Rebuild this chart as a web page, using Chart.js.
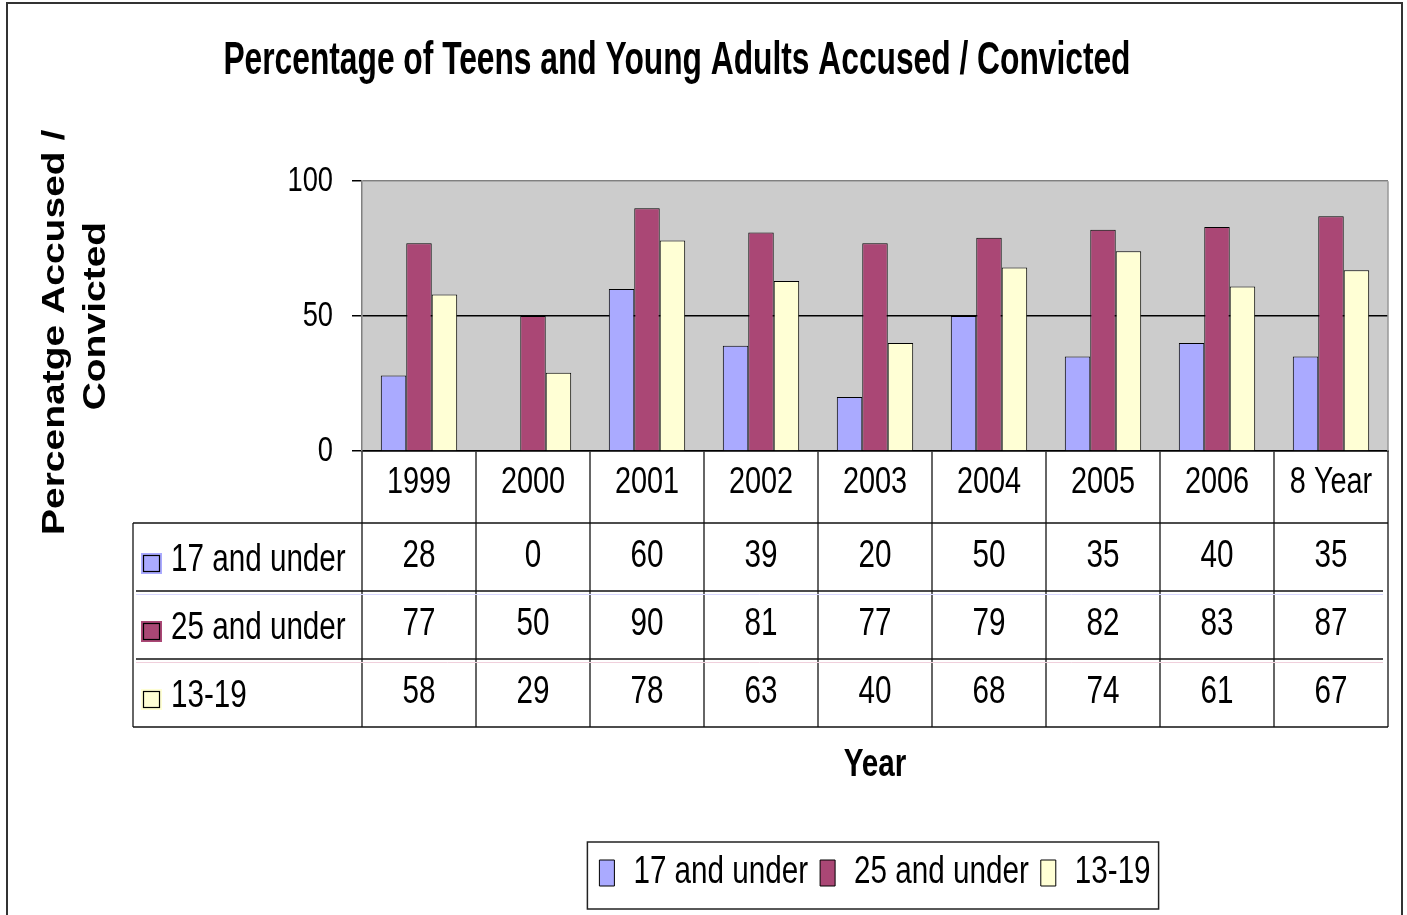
<!DOCTYPE html>
<html><head><meta charset="utf-8">
<script src="https://cdn.jsdelivr.net/npm/chart.js@4.4.1/dist/chart.umd.min.js"></script>
<style>html,body{margin:0;padding:0;background:#fff;overflow:hidden}canvas{display:block}</style>
</head><body>
<canvas id="c" width="1407" height="915"></canvas>
<script>
const categories = ['1999','2000','2001','2002','2003','2004','2005','2006','8 Year'];
const seriesNames = ['17 and under','25 and under','13-19'];
const under17 = [28,0,60,39,20,50,35,40,35];
const under25 = [77,50,90,81,77,79,82,83,87];
const teens1319 = [58,29,78,63,40,68,74,61,67];
const yTickValues = [0,50,100];
const chartTitle = 'Percentage of Teens and Young Adults Accused / Convicted';
const yTitle = ['Percenatge Accused /   ','Convicted'];
const xTitle = 'Year';
const seriesColors = ['#AAAAFF','#AA4775','#FFFFD5'];

const FONT = "'Liberation Sans',Arial,sans-serif";
Chart.defaults.color = '#000';

// The reference renders its text horizontally condensed; mimic it on screen.
const SQUASH = 0.78, TITLE_SQUASH = 0.69;
const canvas = document.getElementById('c');
const ctx2d = canvas.getContext('2d');
const squashFor = t => String(t).trim() === chartTitle ? TITLE_SQUASH : SQUASH;
const origFill = ctx2d.fillText.bind(ctx2d);
const origMeasure = ctx2d.measureText.bind(ctx2d);
ctx2d.fillText = function (text, x, y) {
  const k = squashFor(text);
  const m = this.getTransform();
  const p = m.transformPoint(new DOMPoint(x, y));
  this.save();
  this.setTransform(new DOMMatrix().translate(p.x, p.y).scale(k, 1).translate(-p.x, -p.y).multiply(m));
  origFill(text, x, y);
  this.restore();
};
ctx2d.measureText = function (text) {
  const r = origMeasure(text);
  const m = this.getTransform();
  if (Math.abs(m.b) < 1e-6 && Math.abs(m.c) < 1e-6) {
    const k = squashFor(text);
    return {
      width: r.width * k,
      actualBoundingBoxLeft: r.actualBoundingBoxLeft * k,
      actualBoundingBoxRight: r.actualBoundingBoxRight * k,
      actualBoundingBoxAscent: r.actualBoundingBoxAscent,
      actualBoundingBoxDescent: r.actualBoundingBoxDescent,
      fontBoundingBoxAscent: r.fontBoundingBoxAscent,
      fontBoundingBoxDescent: r.fontBoundingBoxDescent
    };
  }
  return r;
};

const HEADER_H = 72, ROW_H = 68, LABEL_LEFT = 133;

function seg(ctx, x1, y1, x2, y2) { ctx.beginPath(); ctx.moveTo(x1, y1); ctx.lineTo(x2, y2); ctx.stroke(); }

const tablePlugin = {
  id: 'dataTable',
  beforeDraw(chart) {
    const {ctx, chartArea: a} = chart;
    ctx.save();
    ctx.fillStyle = '#fff';
    ctx.fillRect(0, 0, chart.width, chart.height);
    ctx.fillStyle = '#CCCCCC';
    ctx.fillRect(a.left, a.top, a.right - a.left, a.bottom - a.top);
    ctx.restore();
  },
  afterDraw(chart) {
    const {ctx, chartArea: a, scales: {x}} = chart;
    const n = categories.length;
    const colW = (a.right - a.left) / n;
    const tableTop = a.bottom;
    const rowsTop = tableTop + HEADER_H;
    const tableBottom = rowsTop + ROW_H * chart.data.datasets.length;
    ctx.save();
    ctx.strokeStyle = '#999'; ctx.lineWidth = 1.5;
    seg(ctx, a.right, a.top, a.right, a.bottom);
    ctx.strokeStyle = '#333'; ctx.lineWidth = 1.5;
    for (let i = 0; i <= n; i++) {
      const px = Math.round(a.left + i * colW);
      seg(ctx, px, tableTop, px, tableBottom);
    }
    seg(ctx, LABEL_LEFT, rowsTop, LABEL_LEFT, tableBottom);
    ctx.strokeStyle = '#111'; ctx.lineWidth = 1.5;
    seg(ctx, LABEL_LEFT, rowsTop, a.right, rowsTop);
    for (let r = 1; r < chart.data.datasets.length; r++) {
      seg(ctx, LABEL_LEFT + 3, rowsTop + r * ROW_H, a.right - 5, rowsTop + r * ROW_H);
    }
    seg(ctx, LABEL_LEFT, tableBottom, a.right, tableBottom);
    ctx.lineWidth = 1;
    ctx.strokeStyle = '#D8D8FF'; seg(ctx, LABEL_LEFT + 3, rowsTop + ROW_H + 3.5, a.right - 5, rowsTop + ROW_H + 3.5);
    ctx.strokeStyle = '#F0D0DC'; seg(ctx, LABEL_LEFT + 3, rowsTop + 2 * ROW_H + 3.5, a.right - 5, rowsTop + 2 * ROW_H + 3.5);
    ctx.font = '38px ' + FONT;
    ctx.textBaseline = 'middle';
    chart.data.datasets.forEach((ds, r) => {
      const cy = rowsTop + r * ROW_H + ROW_H / 2;
      ctx.fillStyle = '#000';
      ctx.textAlign = 'center';
      ds.data.forEach((v, i) => ctx.fillText(String(v), x.getPixelForValue(i), cy));
      ctx.fillStyle = ds.backgroundColor;
      ctx.fillRect(141, cy - 4, 21, 21);
      ctx.strokeStyle = '#000'; ctx.lineWidth = 1.2;
      ctx.strokeRect(143.5, cy - 1.5, 16, 16);
      ctx.fillStyle = '#000';
      ctx.textAlign = 'left';
      ctx.fillText(ds.label, 171, cy + 4);
    });
    const lg = chart.legend;
    if (lg && lg.legendHitBoxes && lg.legendHitBoxes.length) {
      const hb = lg.legendHitBoxes;
      const l = hb[0].left - 12, r = hb[hb.length - 1].left + hb[hb.length - 1].width + 8;
      ctx.strokeStyle = '#222'; ctx.lineWidth = 1.5;
      ctx.strokeRect(l, lg.top, r - l, 67);
    }
    ctx.strokeStyle = '#333'; ctx.lineWidth = 2;
    ctx.strokeRect(7, 3, 1395, 930);
    ctx.restore();
  }
};

new Chart(ctx2d, {
  type: 'bar',
  data: {
    labels: categories,
    datasets: [
      {label: seriesNames[0], data: under17, backgroundColor: seriesColors[0], borderColor: '#000', borderWidth: 1},
      {label: seriesNames[1], data: under25, backgroundColor: seriesColors[1], borderColor: '#000', borderWidth: 1},
      {label: seriesNames[2], data: teens1319, backgroundColor: seriesColors[2], borderColor: '#000', borderWidth: 1}
    ]
  },
  options: {
    responsive: false,
    animation: false,
    devicePixelRatio: 1,
    layout: {padding: {left: 10, right: 19, top: 0, bottom: 13}},
    datasets: {bar: {categoryPercentage: 0.67, barPercentage: 1}},
    plugins: {
      title: {
        display: true, text: chartTitle + '     ',
        font: {family: FONT, size: 46, weight: 'bold'},
        padding: {top: 34, bottom: 92}
      },
      legend: {
        display: true, position: 'bottom', fullSize: false,
        labels: {
          font: {family: FONT, size: 38},
          boxWidth: 15, boxHeight: 26, padding: 12, color: '#000'
        }
      },
      tooltip: {enabled: false}
    },
    scales: {
      x: {
        grid: {display: false, drawTicks: false},
        border: {display: true, color: '#000', width: 1.5},
        ticks: {font: {family: FONT, size: 37}, padding: 10, color: '#000', maxRotation: 0, autoSkip: false},
        title: {display: true, text: xTitle, font: {family: FONT, size: 38, weight: 'bold'}, padding: {top: 0, bottom: 54}},
        afterFit(scale) { scale.height = 391; }
      },
      y: {
        min: 0, max: 100,
        afterBuildTicks(scale) { scale.ticks = yTickValues.map(v => ({value: v})); },
        grid: {
          color: c => (c.tick && c.tick.value === 100) ? '#808080' : '#000',
          lineWidth: 1.5, tickLength: 10, tickColor: '#000'
        },
        border: {display: true, color: '#808080', width: 1.5},
        ticks: {font: {family: FONT, size: 35}, padding: 19, color: '#000'},
        title: {display: true, text: yTitle, font: {family: FONT, size: 39, weight: 'bold', lineHeight: 1.05}, padding: {top: 25, bottom: 0}},
        afterFit(scale) { scale.width = 352; }
      }
    }
  },
  plugins: [tablePlugin]
});
</script>
</body></html>
